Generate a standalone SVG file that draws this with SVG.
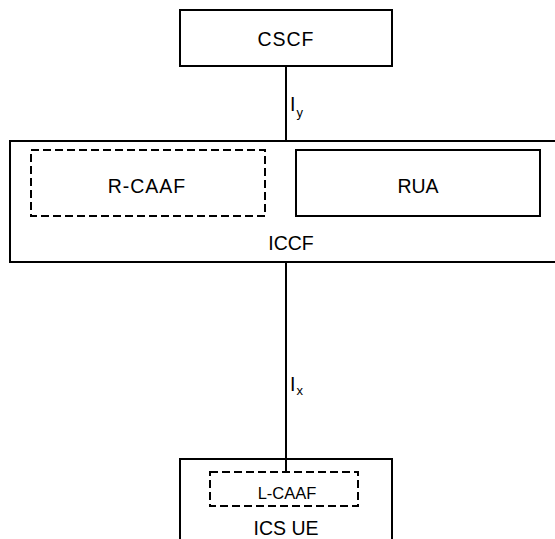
<svg xmlns="http://www.w3.org/2000/svg" width="555" height="539" viewBox="0 0 555 539">
<style>
.box{fill:none;stroke:#000;stroke-width:2}
.dash{fill:none;stroke:#000;stroke-width:2;stroke-dasharray:8 4}
.t{font-family:"Liberation Sans",Arial,sans-serif;font-size:19.5px;fill:#000;text-anchor:middle}
.s{font-family:"Liberation Sans",Arial,sans-serif;font-size:19.5px;fill:#000}
.sub{font-size:13px}
.c{stroke:#000;stroke-width:2;fill:none}
</style>
<rect width="555" height="539" fill="#fff"/>
<g id="connectors">
<line class="c" x1="286" y1="66" x2="286" y2="141"/>
<line class="c" x1="286" y1="262" x2="286" y2="472"/>
<text class="s" x="290" y="111">I<tspan class="sub" dy="6" dx="1">y</tspan></text>
<text class="s" x="290" y="391">I<tspan class="sub" dy="4" dx="1">x</tspan></text>
</g>
<g id="cscf">
<rect class="box" x="180" y="10" width="212" height="56"/>
<text class="t" x="286" y="46" style="letter-spacing:1px">CSCF</text>
</g>
<g id="iccf">
<rect class="box" x="10" y="141" width="560" height="121"/>
<text class="t" x="291" y="250">ICCF</text>
</g>
<g id="rcaaf">
<rect class="dash" x="31" y="150" width="234" height="66"/>
<text class="t" x="147" y="193" style="letter-spacing:1px">R-CAAF</text>
</g>
<g id="rua">
<rect class="box" x="296" y="150" width="244" height="66"/>
<text class="t" x="418" y="193">RUA</text>
</g>
<g id="icsue">
<rect class="box" x="180" y="459" width="212" height="100"/>
<text class="t" x="286" y="535">ICS UE</text>
</g>
<g id="lcaaf">
<rect class="dash" x="210" y="472" width="148" height="34"/>
<text class="t" x="287" y="499" style="font-size:16.5px">L-CAAF</text>
</g>
</svg>
